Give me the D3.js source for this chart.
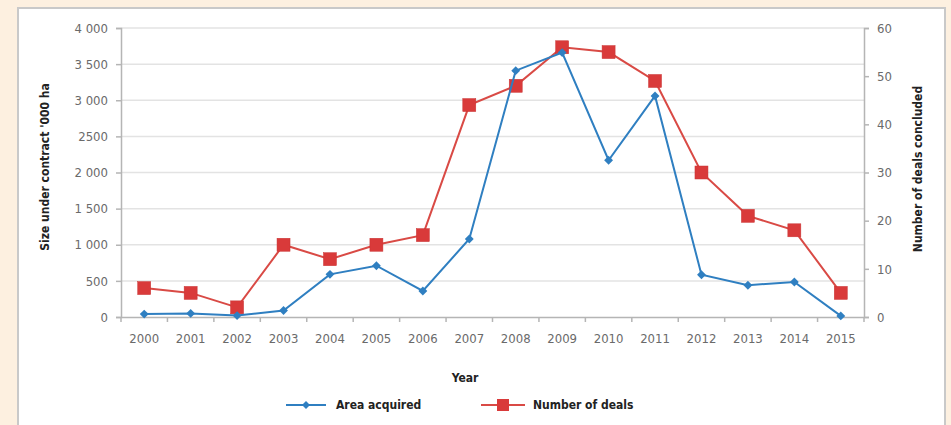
<!DOCTYPE html>
<html><head><meta charset="utf-8">
<script src="https://cdn.jsdelivr.net/npm/d3@7"></script>
<style>
body{margin:0;background:#fdf0e0;}
svg{display:block;}
text{font-family:"Liberation Sans Narrow","DejaVu Sans Condensed","Open Sans",sans-serif;}
</style></head>
<body><svg id="c" width="951" height="425"></svg>
<script>
const years = ["2000","2001","2002","2003","2004","2005","2006","2007","2008","2009","2010","2011","2012","2013","2014","2015"];
const areaAcquired = [40,50,20,90,590,710,360,1080,3410,3660,2170,3060,585,440,485,15];
const numberOfDeals = [6,5,2,15,12,15,17,44,48,56,55,49,30,21,18,5];
const leftTicks = [0,500,1000,1500,2000,2500,3000,3500,4000];
const leftTickLabels = ["0","500","1 000","1 500","2 000","2500","3 000","3 500","4 000"];
const rightTicks = [0,10,20,30,40,50,60];

const svg = d3.select("#c");
svg.append("rect").attr("x",18).attr("y",8).attr("width",927).attr("height",430)
  .attr("fill","#fff").attr("stroke","#c9c9c9").attr("stroke-width",2);

const L=121, R=864, T=28, B=317;
const x = d3.scaleBand().domain(years).range([L,R]);
const yL = d3.scaleLinear().domain([0,4000]).range([B,T]);
const yR = d3.scaleLinear().domain([0,60]).range([B,T]);
const cx = d => x(d)+x.bandwidth()/2;

// gridlines
svg.append("g").selectAll("line").data(leftTicks.slice(1)).join("line")
  .attr("x1",L).attr("x2",R).attr("y1",d=>yL(d)).attr("y2",d=>yL(d))
  .attr("stroke","#e3e3e3").attr("stroke-width",1.5);

const axisColor="#b5b5b5", labelColor="#6a6a6a";
// left axis
const gl = svg.append("g").attr("transform",`translate(${L},0)`)
  .call(d3.axisLeft(yL).tickValues(leftTicks).tickFormat((d,i)=>leftTickLabels[i]).tickSize(5).tickPadding(8));
// right axis
const gr = svg.append("g").attr("transform",`translate(${R},0)`)
  .call(d3.axisRight(yR).tickValues(rightTicks).tickSize(5).tickPadding(8));
// bottom axis
const gb = svg.append("g").attr("transform",`translate(0,${B})`)
  .call(d3.axisBottom(x).tickSize(0).tickPadding(17));
gb.selectAll(".tick").append("line").attr("x1",-x.bandwidth()/2).attr("x2",-x.bandwidth()/2).attr("y2",5);
gb.append("line").attr("x1",R).attr("x2",R).attr("y2",5);
[gl,gr,gb].forEach(g=>{
  g.select(".domain").attr("stroke",axisColor).attr("stroke-width",1.5);
  g.selectAll(".tick line").attr("stroke",axisColor).attr("stroke-width",1.5);
  g.selectAll("line").attr("stroke",axisColor).attr("stroke-width",1.5);
  g.selectAll("text").attr("fill",labelColor).attr("font-size",13)
   .attr("font-family",'"Liberation Sans Narrow","DejaVu Sans Condensed",sans-serif');
});

// axis titles
svg.append("text").attr("transform",`translate(49,167) rotate(-90)`).attr("text-anchor","middle")
  .attr("font-size",12).attr("font-weight","bold").attr("fill","#222").text("Size under contract '000 ha");
svg.append("text").attr("transform",`translate(922,169) rotate(-90)`).attr("text-anchor","middle")
  .attr("font-size",12).attr("font-weight","bold").attr("fill","#222").text("Number of deals concluded");
svg.append("text").attr("x",465).attr("y",382).attr("text-anchor","middle")
  .attr("font-size",12).attr("font-weight","bold").attr("fill","#222").text("Year");

const blue="#2f7fc1", red="#d94a45", redFill="#d93a3a";
// red series
svg.append("path").datum(numberOfDeals).attr("fill","none").attr("stroke",red).attr("stroke-width",2)
  .attr("d",d3.line().x((d,i)=>cx(years[i])).y(d=>yR(d)));
svg.append("g").selectAll("rect").data(numberOfDeals).join("rect")
  .attr("x",(d,i)=>cx(years[i])-6.5).attr("y",d=>yR(d)-6.5).attr("width",13).attr("height",13)
  .attr("fill",redFill).attr("stroke","#c93535").attr("stroke-width",0.5);
// blue series
svg.append("path").datum(areaAcquired).attr("fill","none").attr("stroke",blue).attr("stroke-width",2)
  .attr("d",d3.line().x((d,i)=>cx(years[i])).y(d=>yL(d)));
svg.append("g").selectAll("path.m").data(areaAcquired).join("path").attr("class","m")
  .attr("transform",(d,i)=>`translate(${cx(years[i])},${yL(d)})`)
  .attr("d",d3.symbol(d3.symbolDiamond2,50)).attr("fill",blue);

// legend
const lg = svg.append("g");
lg.append("line").attr("x1",286).attr("x2",326).attr("y1",405).attr("y2",405).attr("stroke",blue).attr("stroke-width",2);
lg.append("path").attr("transform","translate(306,405)").attr("d",d3.symbol(d3.symbolDiamond2,40)).attr("fill",blue);
lg.append("text").attr("x",336).attr("y",409).attr("font-size",12).attr("font-weight","bold").attr("fill","#222").text("Area acquired");
lg.append("line").attr("x1",481).attr("x2",525).attr("y1",405).attr("y2",405).attr("stroke",red).attr("stroke-width",2);
lg.append("rect").attr("x",497).attr("y",399).attr("width",12).attr("height",12).attr("fill",redFill);
lg.append("text").attr("x",533).attr("y",409).attr("font-size",12).attr("font-weight","bold").attr("fill","#222").text("Number of deals");
</script></body></html>
